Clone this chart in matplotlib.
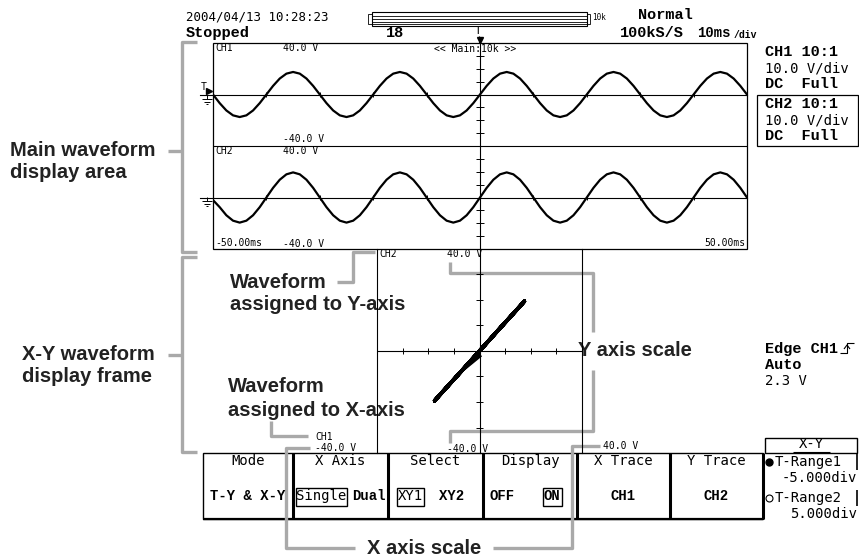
import matplotlib.pyplot as plt
import numpy as np
from matplotlib.patches import Rectangle

W, H = 859, 557

# Trace readings, one every 1.25 ms across the 100 ms screen (-50 .. 50 ms)
t_ms = np.arange(-50, 50.01, 1.25)
ch1_v = [0, -6.7, -12.4, -16.2, -17.5, -16.2, -12.4, -6.7, 0, 6.7, 12.4, 16.2, 17.5, 16.2, 12.4, 6.7,
         0, -6.7, -12.4, -16.2, -17.5, -16.2, -12.4, -6.7, 0, 6.7, 12.4, 16.2, 17.5, 16.2, 12.4, 6.7,
         0, -6.7, -12.4, -16.2, -17.5, -16.2, -12.4, -6.7, 0, 6.7, 12.4, 16.2, 17.5, 16.2, 12.4, 6.7,
         0, -6.7, -12.4, -16.2, -17.5, -16.2, -12.4, -6.7, 0, 6.7, 12.4, 16.2, 17.5, 16.2, 12.4, 6.7,
         0, -6.7, -12.4, -16.2, -17.5, -16.2, -12.4, -6.7, 0, 6.7, 12.4, 16.2, 17.5, 16.2, 12.4, 6.7,
         0]
ch2_v = [-2, -7.5, -13.8, -18.0, -19.5, -18.0, -13.8, -7.5, 0, 7.5, 13.8, 18.0, 19.5, 18.0, 13.8, 7.5,
         0, -7.5, -13.8, -18.0, -19.5, -18.0, -13.8, -7.5, 0, 7.5, 13.8, 18.0, 19.5, 18.0, 13.8, 7.5,
         0, -7.5, -13.8, -18.0, -19.5, -18.0, -13.8, -7.5, 0, 7.5, 13.8, 18.0, 19.5, 18.0, 13.8, 7.5,
         0, -7.5, -13.8, -18.0, -19.5, -18.0, -13.8, -7.5, 0, 7.5, 13.8, 18.0, 19.5, 18.0, 13.8, 7.5,
         0, -7.5, -13.8, -18.0, -19.5, -18.0, -13.8, -7.5, 0, 7.5, 13.8, 18.0, 19.5, 18.0, 13.8, 7.5,
         0]
time_ticks = [-40, -30, -20, -10, 0, 10, 20, 30, 40]
volt_ticks = [-30, -20, -10, 10, 20, 30]

menu_heads = ["Mode", "X Axis", "Select", "Display", "X Trace", "Y Trace"]
menu_edges = [203, 293, 388, 483, 577, 670, 763]

GRAY = "#a9a9a9"
MONO = "DejaVu Sans Mono"
BMONO = "Liberation Mono"
LABEL = "Liberation Sans"

fig = plt.figure(figsize=(W / 100, H / 100), dpi=100)
ov = fig.add_axes([0, 0, 1, 1])
ov.set_xlim(0, W)
ov.set_ylim(H, 0)
ov.axis("off")


def line(pts, color="black", lw=0.8, **kw):
    xs, ys = zip(*pts)
    ov.plot(xs, ys, color=color, lw=lw, solid_capstyle="butt", **kw)


def txt(x, y, s, size=7, family=MONO, weight="normal", ha="left", **kw):
    ov.text(x, y, s, fontsize=size, family=family, weight=weight, ha=ha, va="center", **kw)


def screen_axes(left, top, w, h, xlim, ylim):
    a = fig.add_axes([left / W, 1 - (top + h) / H, w / W, h / H])
    a.set_xlim(*xlim)
    a.set_ylim(*ylim)
    a.axis("off")
    a.patch.set_alpha(0)
    return a


# ---- header ----
txt(186, 17, "2004/04/13 10:28:23", size=9)
txt(186, 33, "Stopped", size=11, family=BMONO, weight="bold")
txt(386, 33, "18", size=11, family=BMONO, weight="bold")
ov.add_patch(Rectangle((372, 12), 215, 14, fill=False, lw=0.8))
for yy in [15.5, 18.5, 21.5, 24]:
    line([(372, yy), (587, yy)], lw=0.6)
ov.add_patch(Rectangle((368, 14), 4, 10, fill=False, lw=0.6))
ov.add_patch(Rectangle((587, 14), 3, 10, fill=False, lw=0.6))
txt(592, 18, "10k", size=5.5)
txt(638, 15, "Normal", size=11, family=BMONO, weight="bold")
txt(620, 33, "100kS/S", size=11, family=BMONO, weight="bold")
txt(697, 33, "10ms", size=10, family=BMONO, weight="bold")
txt(734, 35, "/div", size=7, family=BMONO, weight="bold")
txt(475, 31, "T", size=8)
ov.plot([480], [40], marker="v", ms=5, color="black")
line([(479, 36), (479, 43)])

# ---- right side info ----
for y, s in [(52, "CH1 10:1"), (84, "DC  Full"), (104, "CH2 10:1"), (136, "DC  Full")]:
    txt(765, y, s, size=11, family=BMONO, weight="bold")
for y in [68, 120]:
    txt(765, y, "10.0 V/div", size=10)
ov.add_patch(Rectangle((757, 95), 101, 51, fill=False, lw=0.9))
txt(765, 349, "Edge CH1", size=11, family=BMONO, weight="bold")
txt(765, 365, "Auto", size=11, family=BMONO, weight="bold")
txt(765, 381, "2.3 V", size=10)
line([(840, 353), (847, 353), (847, 343), (854, 343)])
line([(844, 349), (847, 345), (850, 349)])

# ---- main waveform display ----
ov.add_patch(Rectangle((213, 43), 534, 206, fill=False, lw=0.9))
line([(213, 146), (747, 146)])
for top, vals in [(43, ch1_v), (146, ch2_v)]:
    a = screen_axes(213, top, 534, 103, (-50, 50), (-40, 40))
    a.plot([-52.4, 50], [0, 0], color="black", lw=0.8, clip_on=False)
    a.plot([0, 0], [-40, 40], color="black", lw=0.8)
    a.vlines(time_ticks, -2.3, 2.3, color="black", lw=0.7)
    a.hlines(volt_ticks, -0.8, 0.8, color="black", lw=0.7)
    a.plot(t_ms, vals, color="black", lw=1.6)

txt(215, 48, "CH1")
txt(283, 48, "40.0 V")
txt(434, 49, "<< Main:10k >>")
txt(283, 139, "-40.0 V")
txt(215, 151, "CH2")
txt(283, 151, "40.0 V")
txt(215, 243, "-50.00ms")
txt(283, 244, "-40.0 V")
txt(745, 243, "50.00ms", ha="right")
txt(201, 87, "T", size=7)
ov.plot([209], [91], marker=">", ms=4, color="black")
for gy in [99, 201]:
    line([(207, gy - 4), (207, gy)], lw=0.7)
    line([(202, gy), (212, gy)], lw=0.7)
    line([(204, gy + 2.5), (210, gy + 2.5)], lw=0.7)
    line([(206, gy + 5), (208, gy + 5)], lw=0.7)

# ---- X-Y frame ----
xy = screen_axes(377, 249, 205, 204, (-40, 40), (-40, 40))
for xv in [-40, 0, 40]:
    xy.plot([xv, xv], [-40, 40], color="black", lw=0.8, clip_on=False)
xy.plot([-40, 40], [0, 0], color="black", lw=0.8)
xy.vlines(volt_ticks, -1.2, 1.2, color="black", lw=0.7)
xy.hlines(volt_ticks, -1.2, 1.2, color="black", lw=0.7)
xy.plot(ch1_v, ch2_v, color="black", lw=2.6)

txt(379, 254, "CH2")
txt(447, 254, "40.0 V")
txt(315, 437, "CH1")
txt(315, 448, "-40.0 V")
txt(447, 449, "-40.0 V")
txt(603, 446, "40.0 V")

# ---- soft-key menu ----
ov.add_patch(Rectangle((203, 453), 560, 66, fill=False, lw=1))
for xe in menu_edges[1:]:
    line([(xe, 453), (xe, 519)], lw=2.2)
line([(203, 519), (763, 519)], lw=1.6)
for i, head in enumerate(menu_heads):
    cx = (menu_edges[i] + menu_edges[i + 1]) / 2
    txt(cx, 461, head, size=10, ha="center")
row2 = 496
txt(248, row2, "T-Y & X-Y", size=10, family=BMONO, weight="bold", ha="center")
txt(321, row2, "Single", size=10, ha="center")
ov.add_patch(Rectangle((296, 488), 51, 18, fill=False, lw=1))
txt(369, row2, "Dual", size=10, family=BMONO, weight="bold", ha="center")
txt(410, row2, "XY1", size=10, ha="center")
ov.add_patch(Rectangle((397, 488), 27, 18, fill=False, lw=1))
txt(452, row2, "XY2", size=10, family=BMONO, weight="bold", ha="center")
txt(502, row2, "OFF", size=10, family=BMONO, weight="bold", ha="center")
txt(552, row2, "ON", size=10, family=BMONO, weight="bold", ha="center")
ov.add_patch(Rectangle((543, 488), 19, 18, fill=False, lw=1))
txt(623, row2, "CH1", size=10, family=BMONO, weight="bold", ha="center")
txt(716, row2, "CH2", size=10, family=BMONO, weight="bold", ha="center")

ov.add_patch(Rectangle((765, 438), 92, 15, fill=False, lw=1))
txt(811, 444, "X-Y", size=10, ha="center")
line([(793, 452), (830, 452)], lw=0.8)
line([(857, 453), (857, 470)], lw=1.2)
line([(857, 490), (857, 506)], lw=1.2)
ov.plot([769], [462], marker="o", ms=5, color="black")
ov.plot([769], [498], marker="o", ms=5, mfc="white", mec="black", mew=0.8)
txt(775, 462, "T-Range1", size=10)
txt(857, 478, "-5.000div", size=10, ha="right")
txt(775, 498, "T-Range2", size=10)
txt(857, 514, "5.000div", size=10, ha="right")

# ---- call-outs ----
cw = dict(color=GRAY, lw=2.4)
line([(197, 42), (182, 42), (182, 252), (197, 252)], **cw)
line([(168, 151), (182, 151)], **cw)
line([(197, 257), (182, 257), (182, 452), (197, 452)], **cw)
line([(168, 355), (182, 355)], **cw)
line([(337, 282), (353, 282), (353, 252), (375, 252)], **cw)
line([(450, 262), (450, 273), (593, 273), (593, 332)], **cw)
line([(593, 370), (593, 431), (450, 431), (450, 443)], **cw)
line([(271, 421), (271, 436), (308, 436)], **cw)
line([(310, 448), (286, 448), (286, 548), (355, 548)], **cw)
line([(493, 548), (572, 548), (572, 446), (600, 446)], **cw)

lab = dict(size=14.5, family=LABEL, weight="bold", color="#222222")
txt(10, 150, "Main waveform", **lab)
txt(10, 173, "display area", **lab)
txt(22, 354, "X-Y waveform", **lab)
txt(22, 376, "display frame", **lab)
txt(230, 282, "Waveform", **lab)
txt(230, 304, "assigned to Y-axis", **lab)
txt(228, 387, "Waveform", **lab)
txt(228, 410, "assigned to X-axis", **lab)
txt(578, 351, "Y axis scale", **lab)
txt(424, 548, "X axis scale", ha="center", **lab)

fig.savefig("out.png", dpi=100)
